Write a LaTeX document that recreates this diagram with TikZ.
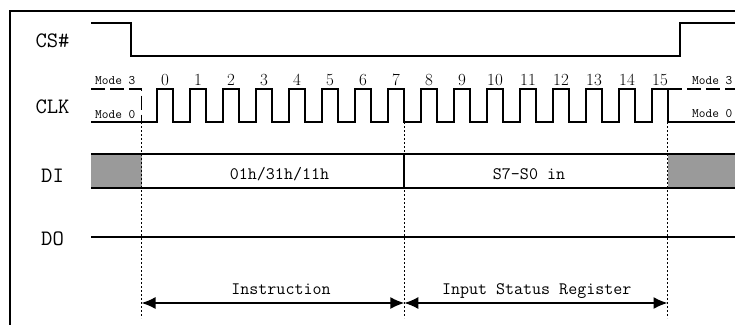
\documentclass[tikz,border=0pt]{standalone}
\usetikzlibrary{arrows.meta}

\definecolor{busgray}{HTML}{9A9A9A}

\tikzset{
  sig/.style={line width=1.8pt},
  guide/.style={line width=1.6pt, dash pattern=on 2pt off 2pt},
  modedash/.style={line width=1.8pt, dash pattern=on 14pt off 5pt},
  lbl/.style={font=\fontsize{22}{22}\selectfont\ttfamily, anchor=base, inner sep=0pt},
  txt/.style={font=\fontsize{17.5}{18}\selectfont\ttfamily, anchor=base, inner sep=0pt},
  num/.style={font=\fontsize{17}{18}\selectfont, anchor=base, inner sep=0pt},
  modetxt/.style={font=\fontsize{13}{14}\selectfont\ttfamily, anchor=base west, inner sep=0pt}
}

\begin{document}
\begin{tikzpicture}[x=1pt,y=-1pt,>={Latex[length=14pt,width=12pt]}]
  \useasboundingbox (0,0) rectangle (735,325);

  % Frame
  \draw[line width=1.5pt] (735,11) -- (10,11) -- (10,325);

  % Signal names
  \node[lbl] (cs)  at (52.5,47)    {CS\#};
  \node[lbl] (clk) at (52.5,113.3) {CLK};
  \node[lbl] (di)  at (52.5,182.7) {DI};
  \node[lbl] (do)  at (52.5,245)   {DO};

  % CS#
  \draw[sig] (91,23) -- (131,23) -- (131,56) -- (680,56) -- (680,23) -- (735,23);

  % CLK, mode 3 and mode 0 idle levels
  \draw[modedash] (91,89) -- (141.5,89) -- (141.5,122);
  \draw[modedash] (668.3,89) -- (735,89);
  \draw[sig] (91,122)
    foreach \k in {0,...,15} { -- ({156.7+33*\k},122) -- ++(0,-33) -- ++(16.6,0) -- ++(0,33) }
    -- (735,122);

  % Clock numbers
  \foreach \k in {0,...,15}
    \node[num] (n\k) at ({165+33*\k},85) {\k};

  \node[modetxt] (m3l) at (95,84)     {Mode 3};
  \node[modetxt] (m0l) at (95,118)    {Mode 0};
  \node[modetxt] (m3r) at (692,84)    {Mode 3};
  \node[modetxt] (m0r) at (692,117.7) {Mode 0};

  % DI
  \fill[busgray] (91,154) rectangle (141.5,188);
  \fill[busgray] (667.5,154) rectangle (735,188);
  \draw[sig] (91,154) -- (735,154);
  \draw[sig] (91,188) -- (735,188);
  \draw[sig] (404.3,154) -- (404.3,188);
  \node[txt] (cmd) at (279.5,179.3) {01h/31h/11h};
  \node[txt] (sts) at (529,179.3)   {S7-S0 in};

  % DO
  \draw[sig] (91,237) -- (735,237);

  % Guides
  \foreach \x/\n in {141.5/a, 404.3/b, 667.5/c} {
    \coordinate (top\n) at (\x,122);
    \coordinate (bot\n) at (\x,318);
    \coordinate (arr\n) at (\x,303);
    \draw[guide] (top\n) -- (bot\n);
  }

  % Phases
  \draw[<->, line width=1.5pt] (arra) -- (arrb);
  \draw[<->, line width=1.5pt] (arrb) -- (arrc);
  \node[txt] (ins) at (281,294)   {Instruction};
  \node[txt] (isr) at (536.7,294) {Input Status Register};

\end{tikzpicture}
\end{document}
